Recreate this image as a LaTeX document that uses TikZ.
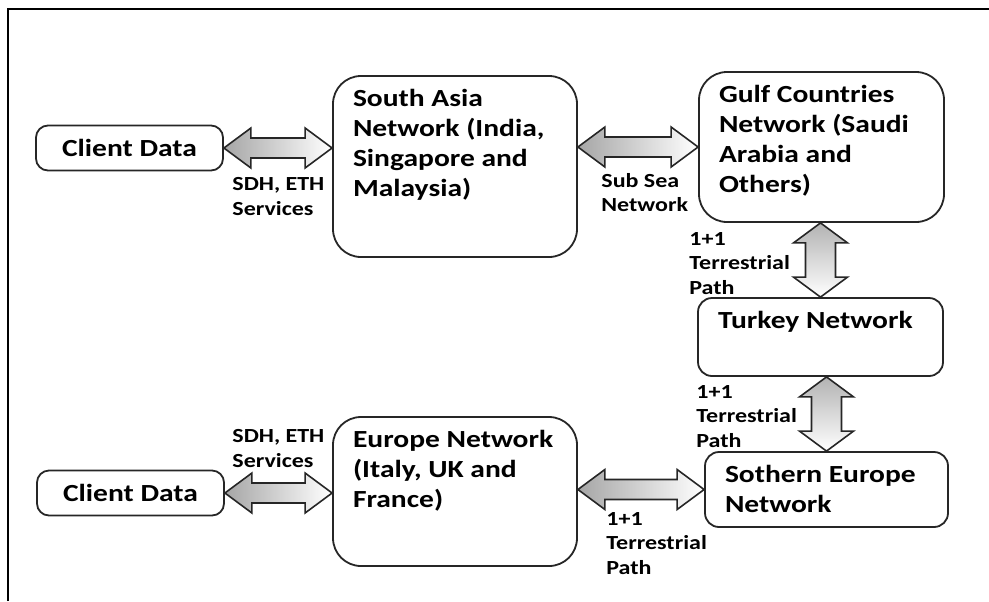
\documentclass[tikz,border=0pt]{standalone}
\usepackage{fontspec}
\setmainfont{Carlito}[FakeStretch=1.2]
\usepackage{tikz}
\usetikzlibrary{calc}

\tikzset{
  netbox/.style={draw=black!85, line width=0.9pt, rounded corners=14pt, inner xsep=10pt, inner ysep=4.5pt,
    font=\bfseries\fontsize{12.3}{15}\selectfont},
  clientbox/.style={draw=black!85, line width=0.9pt, rounded corners=6pt, minimum width=93.5pt, minimum height=22.5pt,
    inner sep=0pt, font=\bfseries\fontsize{12.3}{15}\selectfont},
  linklabel/.style={anchor=north west, inner sep=0pt, align=left, font=\bfseries\fontsize{10}{12.25}\selectfont},
  harrowfill/.style={draw=black!85, line width=0.8pt, line join=miter, left color=gray!70, right color=white},
  varrowfill/.style={draw=black!85, line width=0.8pt, line join=miter, top color=gray!60, bottom color=white},
}

% text block at the top left of a box
\newcommand{\netlabel}[3]{\parbox[t][#2][t]{#1}{\raggedright\strut #3}}

% fat double arrows
\newcommand{\hpipe}[2]{%
  \draw[harrowfill] let \p1=#1, \p2=#2 in
    (\x1,\y1) -- ++(13.5pt,10pt) -- ++(0,-5pt) -- (\x2-13.5pt,\y1+5pt) -- ++(0,5pt) -- (\x2,\y1)
    -- ++(-13.5pt,-10pt) -- ++(0,5pt) -- (\x1+13.5pt,\y1-5pt) -- ++(0,-5pt) -- cycle;}
\newcommand{\vpipe}[2]{%
  \draw[varrowfill] let \p1=#1, \p2=#2 in
    (\x1,\y1) -- ++(13.5pt,-10pt) -- ++(-6pt,0) -- (\x1+7.5pt,\y2+10pt) -- ++(6pt,0) -- (\x1,\y2)
    -- ++(-13.5pt,10pt) -- ++(6pt,0) -- (\x1-7.5pt,\y1-10pt) -- ++(-6pt,0) -- cycle;}

\begin{document}
\begin{tikzpicture}[x=0.5pt, y=-0.5pt]

    \useasboundingbox (0,0) rectangle (989,601);
    \draw[line width=1.2pt] (8,601) -- (8,9) -- (989,9);

    \node[clientbox] at (129.5,148) (client1) {Client Data\hspace{6pt}};
    \node[netbox] at (455,166.5) (asia) {\netlabel{102pt}{81.5pt}{South Asia\\Network (India,\\Singapore and\\Malaysia)}};
    \node[netbox] at (821.5,147) (gulf) {\netlabel{102.5pt}{66pt}{Gulf Countries\\Network (Saudi\\Arabia and\\Others)}};
    \node[netbox, rounded corners=7pt] at (820.5,337) (turkey) {\netlabel{102.5pt}{30pt}{Turkey Network}};
    \node[netbox, rounded corners=7pt] at (826.5,489.5) (soeu) {\netlabel{101.5pt}{28.5pt}{Sothern Europe\\Network}};
    \node[netbox] at (455,491.5) (europe) {\netlabel{102pt}{65.5pt}{Europe Network\\(Italy, UK and\\France)}};
    \node[clientbox] at (130.5,493) (client2) {Client Data\hspace{6pt}};

    \node[linklabel] at (232,177) (svc1) {SDH, ETH\\Services};
    \node[linklabel] at (601,173) (subsea) {Sub Sea\\Network};
    \node[linklabel] at (689,232) (terr1) {1+1\\Terrestrial\\Path};
    \node[linklabel] at (696,385) (terr2) {1+1\\Terrestrial\\Path};
    \node[linklabel] at (232,429) (svc2) {SDH, ETH\\Services};
    \node[linklabel] at (606,512) (terr3) {1+1\\Terrestrial\\Path};

    \hpipe{(client1.east)}{(client1.east -| asia.west)}
    \hpipe{(asia.east |- gulf.west)}{(gulf.west)}
    \vpipe{(gulf.south -| turkey.north)}{(turkey.north)}
    \vpipe{(turkey.south -| soeu.north)}{(soeu.north)}
    \hpipe{(client2.east)}{(client2.east -| europe.west)}
    \hpipe{(europe.east |- soeu.west)}{(soeu.west)}

\end{tikzpicture}
\end{document}
